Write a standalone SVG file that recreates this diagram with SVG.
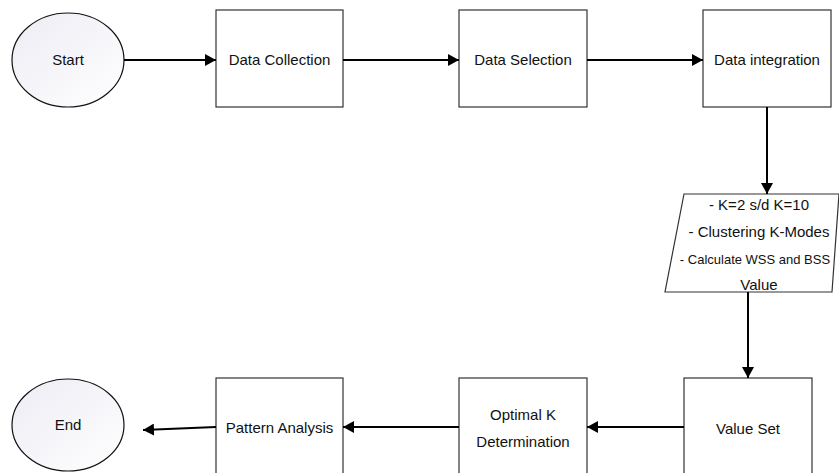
<svg xmlns="http://www.w3.org/2000/svg" width="839" height="473" viewBox="0 0 839 473">
<style>
.box{fill:#fff;stroke:#333;stroke-width:1.2}
.term{fill:url(#g);stroke:#111;stroke-width:1.2}
.t{font-family:"Liberation Sans",Arial,sans-serif;font-size:15px;fill:#111;text-anchor:middle}
.s{font-size:13px}
.c{stroke:#000;stroke-width:2;fill:none;marker-end:url(#ah)}
</style>
<defs>
<linearGradient id="g" x1="0" y1="0" x2="1" y2="1">
<stop offset="0" stop-color="#ececf4"/>
<stop offset="1" stop-color="#ffffff"/>
</linearGradient>
<marker id="ah" markerUnits="userSpaceOnUse" markerWidth="12" markerHeight="12" refX="11" refY="6" orient="auto">
<path d="M0,0 L11,6 L0,12 z" fill="#000"/>
</marker>
</defs>
<g id="start"><ellipse class="term" cx="68" cy="60" rx="56" ry="47"/><text class="t" x="68" y="65">Start</text></g>
<g id="data-collection"><rect class="box" x="216" y="10" width="127" height="97"/><text class="t" x="279.5" y="65">Data Collection</text></g>
<g id="data-selection"><rect class="box" x="459" y="10" width="128" height="97"/><text class="t" x="523" y="65">Data Selection</text></g>
<g id="data-integration"><rect class="box" x="703" y="10" width="128" height="97"/><text class="t" x="767" y="65">Data integration</text></g>
<g id="kmodes"><polygon class="box" points="684,194 839,194 832,292 665,292"/>
<text class="t" x="759" y="210">- K=2 s/d K=10</text>
<text class="t" x="759" y="237">- Clustering K-Modes</text>
<text class="t s" x="755" y="264">- Calculate WSS and BSS</text>
<text class="t" x="759" y="290">Value</text></g>
<g id="value-set"><rect class="box" x="684" y="378" width="128" height="100"/><text class="t" x="748" y="434">Value Set</text></g>
<g id="optimal-k"><rect class="box" x="459" y="378" width="128" height="100"/><text class="t" x="523" y="420">Optimal K</text><text class="t" x="523" y="447">Determination</text></g>
<g id="pattern-analysis"><rect class="box" x="216" y="378" width="127" height="100"/><text class="t" x="279.5" y="433">Pattern Analysis</text></g>
<g id="end"><ellipse class="term" cx="68" cy="425" rx="56" ry="46"/><text class="t" x="68" y="430">End</text></g>
<g id="connectors">
<path class="c" d="M124,60 H216"/>
<path class="c" d="M343,60 H459"/>
<path class="c" d="M587,60 H703"/>
<path class="c" d="M767,107 V194"/>
<path class="c" d="M748,292 V378"/>
<path class="c" d="M684,427 H587"/>
<path class="c" d="M459,427 H343"/>
<path class="c" d="M216,427 L143,430"/>
</g>
</svg>
